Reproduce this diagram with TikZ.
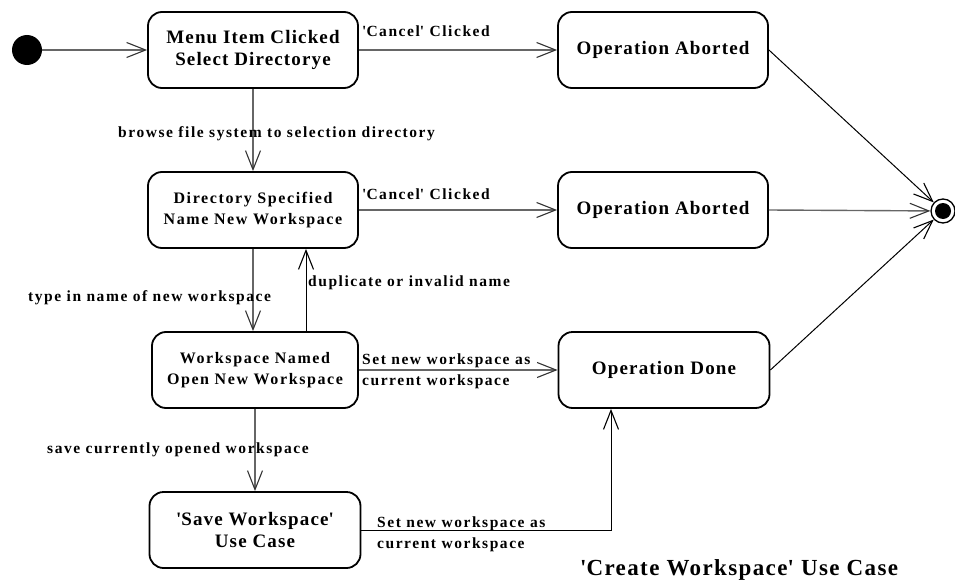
\documentclass[tikz,border=0pt]{standalone}
\usepackage{fontspec}
\setmainfont{Liberation Serif}
\newfontfamily\lblf{Liberation Serif}[LetterSpace=10]
\newfontfamily\ttlf{Liberation Serif}[LetterSpace=6]
\usetikzlibrary{arrows.meta}
\begin{document}
\begin{tikzpicture}[x=1pt,y=-1pt,
  state/.style={draw=black,line width=1.8pt,rounded corners=14pt,minimum width=210pt,minimum height=76pt,align=center,inner sep=0pt},
  bigt/.style={font=\ttlf\bfseries\fontsize{19}{22}\selectfont},
  smallt/.style={font=\lblf\bfseries\fontsize{16}{21}\selectfont},
  lbl/.style={font=\lblf\bfseries\fontsize{15.5}{21}\selectfont,inner sep=0pt,anchor=base west},
  lbltwo/.style={font=\lblf\bfseries\fontsize{15.5}{21}\selectfont,inner sep=0pt,anchor=west,align=left},
  titlet/.style={font=\ttlf\bfseries\fontsize{23}{26}\selectfont,inner sep=0pt,anchor=base west},
  conn/.style={draw=black!60,line width=1.4pt,-{Straight Barb[length=19pt,width=15pt,line width=1.1pt,black!80]}},
  connk/.style={draw=black,line width=1pt,-{Straight Barb[length=19pt,width=15pt,line width=1.1pt]}}
]
\useasboundingbox (0,0) rectangle (955,583);
\coordinate (c306) at (306,0);
\coordinate (c611) at (611,0);
\node[fill=black,circle,minimum size=30pt,inner sep=0pt] (init) at (27,50) {};
\node[state,bigt] (s1) at (253,50) {Menu Item Clicked\\Select Directorye};
\node[state,bigt] (ab1) at (663,50) {Operation Aborted};
\node[state,smallt] (s2) at (253,210) {Directory Specified\\Name New Workspace};
\node[state,bigt] (ab2) at (663,210) {Operation Aborted};
\node[state,smallt,minimum width=206pt] (s3) at (255,370) {Workspace Named\\Open New Workspace};
\node[state,bigt,minimum width=211pt] (done) at (664,370) {Operation Done};
\node[state,bigt,minimum width=211pt] (s4) at (255,530) {\textquotesingle Save Workspace\textquotesingle\\Use Case};
\node[circle,draw=black,line width=1.3pt,minimum size=24pt,inner sep=0pt,fill=white] (fin) at (943,211) {};
\fill[black] (fin.center) circle (8pt);

\draw[conn] (init) -- (s1);
\draw[conn] (s1) -- (ab1);
\draw[conn] (s1) -- (s2);
\draw[conn] (s2) -- (ab2);
\draw[conn] (s2.south) -- (s2.south |- s3.north);
\draw[connk] (s3.north -| c306) -- (s2.south -| c306);
\draw[conn] (s3) -- (done);
\draw[conn] (s3) -- (s4);
\draw[connk] (s4.east) -| (done.south -| c611);
\draw[connk] (ab1.east) -- (fin);
\draw[conn] (ab2.east) -- (fin);
\draw[connk] (done.east) -- (fin);

\node[lbl] (l1) at (362,37) {\textquotesingle Cancel\textquotesingle{} Clicked};
\node[lbl] (l2) at (362,199) {\textquotesingle Cancel\textquotesingle{} Clicked};
\node[lbl] (l3) at (118,137) {browse file system to selection directory};
\node[lbl] (l4) at (28,301) {type in name of new workspace};
\node[lbl] (l5) at (308,286) {duplicate or invalid name};
\node[lbltwo] (l6) at (362,371) {Set new workspace as\\current workspace};
\node[lbl] (l7) at (47,453) {save currently opened workspace};
\node[lbltwo] (l8) at (377,534) {Set new workspace as\\current workspace};
\node[titlet] (ttl) at (580,575) {\textquotesingle Create Workspace\textquotesingle{} Use Case};
\end{tikzpicture}
\end{document}
